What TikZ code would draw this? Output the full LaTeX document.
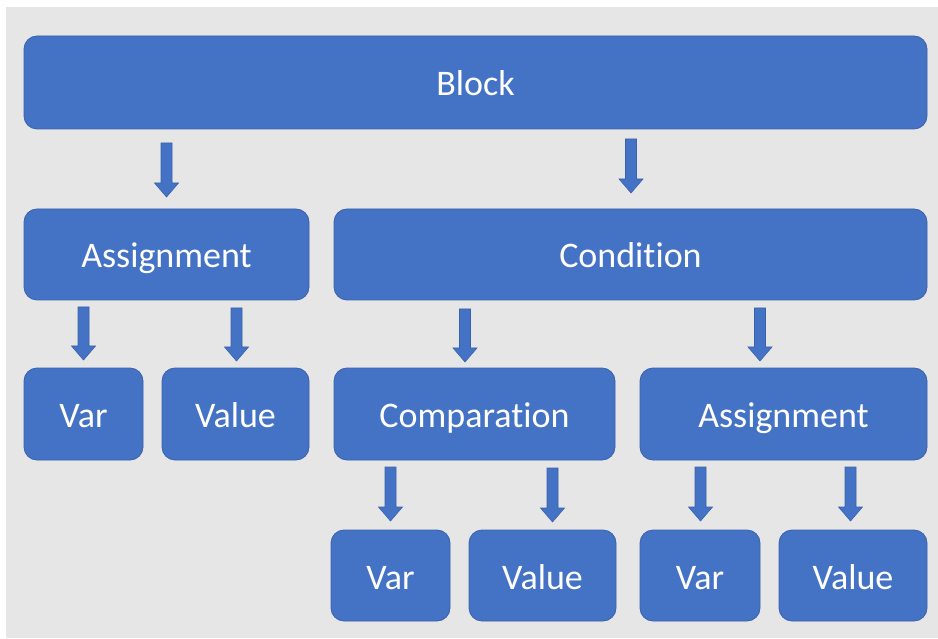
\documentclass[tikz,border=0pt]{standalone}
\usepackage{fontspec}
\setmainfont[Ligatures=NoCommon]{Carlito}
\usetikzlibrary{calc}

\definecolor{bggray}{HTML}{E6E6E6}
\definecolor{boxblue}{HTML}{4472C4}
\definecolor{boxedge}{HTML}{3A62AC}

\tikzset{
  box/.style={fill=boxblue, draw=boxedge, line width=0.8pt, rounded corners=13pt,
    text=white, inner sep=0pt, font=\fontsize{36}{43}\selectfont,
    text height=27pt, text depth=0pt},
  % block arrow: shaft 11pt wide, head 24pt wide and 14pt long
  blockarrow/.style={to path={
    let \p1=(\tikztostart), \p2=(\tikztotarget) in
    (\x1-5.5pt,\y1) -- (\x1+5.5pt,\y1) -- (\x1+5.5pt,\y2+14pt)
    -- (\x1+12pt,\y2+14pt) -- (\x1,\y2) -- (\x1-12pt,\y2+14pt)
    -- (\x1-5.5pt,\y2+14pt) -- cycle}},
  arrowfill/.style={fill=boxblue, draw=boxedge, line width=0.6pt, line join=miter}
}

\begin{document}
\begin{tikzpicture}[x=1pt, y=-1pt]
  \useasboundingbox (0,0) rectangle (938,639);
  \fill[white] (0,0) rectangle (938,639);
  \fill[bggray] (6,7) rectangle (938,638);

  % tree of boxes
  \node[box, minimum width=903pt, minimum height=93pt] (block)   at (475.5,82.5) {Block};
  \node[box, minimum width=285pt, minimum height=91pt] (assignA) at (166.5,254.5) {Assignment};
  \node[box, minimum width=593pt, minimum height=91pt] (cond)    at (630.5,254.5) {Condition};
  \node[box, minimum width=119pt, minimum height=92pt] (varA)    at (83.5,414) {Var};
  \node[box, minimum width=147pt, minimum height=92pt] (valA)    at (235.5,414) {Value};
  \node[box, minimum width=281pt, minimum height=92pt] (comp)    at (474.5,414) {Comparation};
  \node[box, minimum width=287pt, minimum height=92pt] (assignB) at (783.5,414) {Assignment};
  \node[box, minimum width=119pt, minimum height=91pt] (varB)    at (390.5,575.5) {Var};
  \node[box, minimum width=147pt, minimum height=91pt] (valB)    at (542.5,575.5) {Value};
  \node[box, minimum width=120pt, minimum height=91pt] (varC)    at (700,575.5) {Var};
  \node[box, minimum width=148pt, minimum height=91pt] (valC)    at (853,575.5) {Value};

  % arrow ends
  \coordinate (a1s) at (166.5,143);  \coordinate (a1e) at (166.5,197);
  \coordinate (a2s) at (631,139);    \coordinate (a2e) at (631,193);
  \coordinate (a3s) at (83.5,307);   \coordinate (a3e) at (83.5,360);
  \coordinate (a4s) at (236.5,308);  \coordinate (a4e) at (236.5,361);
  \coordinate (a5s) at (465,309);    \coordinate (a5e) at (465,362);
  \coordinate (a6s) at (760,308);    \coordinate (a6e) at (760,361);
  \coordinate (a7s) at (390.5,467);  \coordinate (a7e) at (390.5,521);
  \coordinate (a8s) at (552.5,468);  \coordinate (a8e) at (552.5,522);
  \coordinate (a9s) at (700.5,467);  \coordinate (a9e) at (700.5,521);
  \coordinate (a10s) at (850.5,467); \coordinate (a10e) at (850.5,521);

  \foreach \i in {1,...,10}{
    \draw[arrowfill] (a\i s) to[blockarrow] (a\i e);
  }
\end{tikzpicture}
\end{document}
